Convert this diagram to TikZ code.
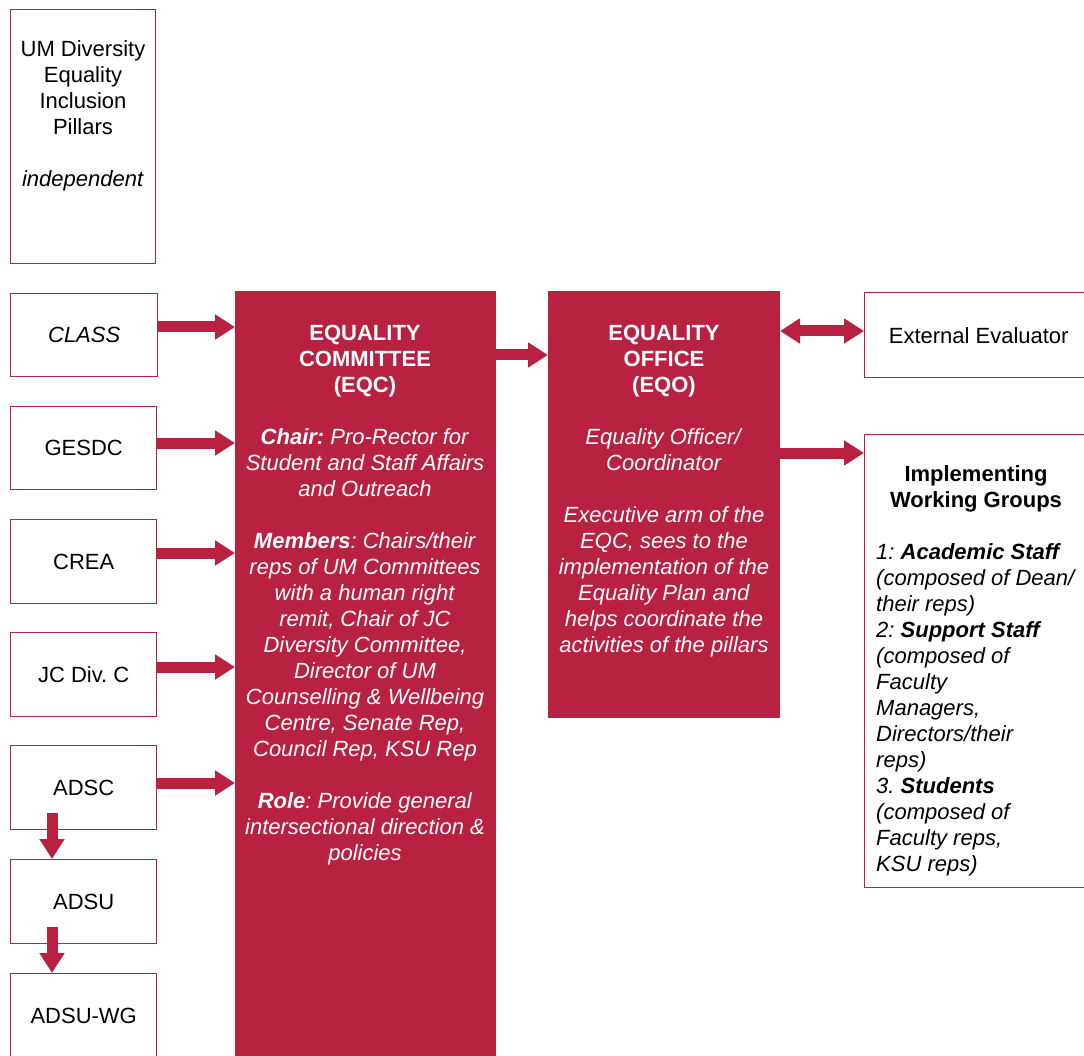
\documentclass[tikz,border=0pt]{standalone}
\usepackage{fontspec}
\setmainfont{Liberation Sans}
\usetikzlibrary{arrows.meta}
\definecolor{um}{RGB}{184,33,64}
\frenchspacing
\begin{document}
\begin{tikzpicture}[x=1pt,y=-1pt,
  box/.style={draw=um, line width=1.4pt, fill=white, inner sep=0pt, anchor=north west, font=\fontsize{22}{26}\selectfont},
  dark/.style={draw=um, fill=um, line width=1pt, inner sep=0pt, anchor=north west},
  txt/.style={font=\fontsize{22}{26}\selectfont, align=center, inner sep=0pt},
  wtxt/.style={txt, text=white},
  arr/.style={draw=um, line width=11pt, -{Triangle[length=20pt,width=24pt]}},
  darr/.style={draw=um, line width=11pt, {Triangle[length=20pt,width=24pt]}-{Triangle[length=20pt,width=24pt]}}]
\useasboundingbox (0,0) rectangle (1084,1056);
\clip (0,0) rectangle (1084,1056);

% left column
\node[box, minimum width=145pt, minimum height=254pt] (pillars) at (10,9) {};
\node[txt] (pillarstxt) at (83,116) {UM Diversity\\Equality\\Inclusion\\Pillars\\[26pt]\textit{independent}};
\node[box, minimum width=147pt, minimum height=83pt] (class) at (10,293) {\textit{CLASS}};
\node[box, minimum width=146pt, minimum height=83pt] (gesdc) at (10,406) {GESDC};
\node[box, minimum width=146pt, minimum height=84pt] (crea) at (10,519) {CREA};
\node[box, minimum width=146pt, minimum height=84pt] (jc) at (10,632) {JC Div. C};
\node[box, minimum width=146pt, minimum height=84pt] (adsc) at (10,745) {ADSC};
\node[box, minimum width=146pt, minimum height=84pt] (adsu) at (10,859) {ADSU};
\node[box, minimum width=146pt, minimum height=84pt] (adswg) at (10,973) {ADSU-WG};

% committee
\node[dark, minimum width=260pt, minimum height=800pt] (eqc) at (235,291) {};
\node[wtxt] (eqctxt) at (365,595.5) {\textbf{EQUALITY}\\\textbf{COMMITTEE}\\\textbf{(EQC)}\\[26pt]
\textit{\textbf{Chair:} Pro-Rector for}\\\textit{Student and Staff Affairs}\\\textit{and Outreach}\\[26pt]
\textit{\textbf{Members}: Chairs/their}\\\textit{reps of UM Committees}\\\textit{with a human right}\\\textit{remit, Chair of JC}\\\textit{Diversity Committee,}\\\textit{Director of UM}\\\textit{Counselling \& Wellbeing}\\\textit{Centre, Senate Rep,}\\\textit{Council Rep, KSU Rep}\\[26pt]
\textit{\textbf{Role}: Provide general}\\\textit{intersectional direction \&}\\\textit{policies}};

% office
\node[dark, minimum width=231pt, minimum height=426pt] (eqo) at (548,291) {};
\node[wtxt] (eqotxt) at (664,491.5) {\textbf{EQUALITY}\\\textbf{OFFICE}\\\textbf{(EQO)}\\[26pt]
\textit{Equality Officer/}\\\textit{Coordinator}\\[26pt]
\textit{Executive arm of the}\\\textit{EQC, sees to the}\\\textit{implementation of the}\\\textit{Equality Plan and}\\\textit{helps coordinate the}\\\textit{activities of the pillars}};

% right column
\node[box, minimum width=228pt, minimum height=85pt] (ext) at (864,292) {External Evaluator};
\node[box, minimum width=240pt, minimum height=453pt] (impl) at (864,434) {};
\node[txt] (impltitle) at (976,489) {\textbf{Implementing}\\\textbf{Working Groups}};
\node[txt, align=left, anchor=west] (impllist) at (876,710) {\textit{1: \textbf{Academic Staff}}\\\textit{(composed of Dean/}\\\textit{their reps)}\\\textit{2: \textbf{Support Staff}}\\\textit{(composed of}\\\textit{Faculty}\\\textit{Managers,}\\\textit{Directors/their}\\\textit{reps)}\\\textit{3. \textbf{Students}}\\\textit{(composed of}\\\textit{Faculty reps,}\\\textit{KSU reps)}};

% arrow levels
\coordinate (yclass) at (0,327);
\coordinate (ygesdc) at (0,443);
\coordinate (ycrea) at (0,553);
\coordinate (yjc) at (0,667);
\coordinate (yadsc) at (0,783);
\coordinate (yeqo) at (0,355);
\coordinate (yext) at (0,331);
\coordinate (yimpl) at (0,453);
\coordinate (v1) at (52,813);
\coordinate (v2) at (52,927);

\draw[arr] (class.east |- yclass) -- (eqc.west |- yclass);
\draw[arr] (gesdc.east |- ygesdc) -- (eqc.west |- ygesdc);
\draw[arr] (crea.east |- ycrea) -- (eqc.west |- ycrea);
\draw[arr] (jc.east |- yjc) -- (eqc.west |- yjc);
\draw[arr] (adsc.east |- yadsc) -- (eqc.west |- yadsc);
\draw[arr] (eqc.east |- yeqo) -- (eqo.west |- yeqo);
\draw[darr] (eqo.east |- yext) -- (ext.west |- yext);
\draw[arr] (eqo.east |- yimpl) -- (impl.west |- yimpl);
\draw[arr] (v1) -- (v1 |- adsu.north);
\draw[arr] (v2) -- (v2 |- adswg.north);
\end{tikzpicture}
\end{document}
